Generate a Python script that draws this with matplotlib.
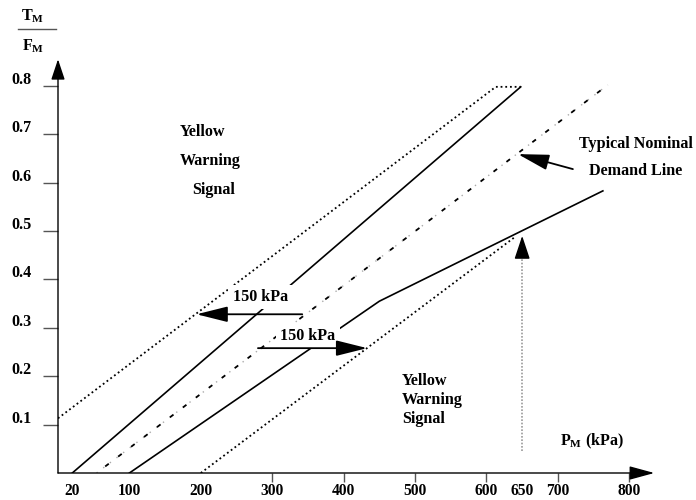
import matplotlib
matplotlib.use("Agg")
import matplotlib.pyplot as plt
from matplotlib.lines import Line2D
from matplotlib.transforms import ScaledTranslation

plt.rcParams['font.family'] = ['Liberation Serif', 'DejaVu Serif']
plt.rcParams['font.weight'] = 'bold'
plt.rcParams['mathtext.fontset'] = 'custom'
plt.rcParams['mathtext.rm'] = 'Liberation Serif:bold'
plt.rcParams['mathtext.bf'] = 'Liberation Serif:bold'
plt.rcParams['mathtext.it'] = 'Liberation Serif:bold'

# limit lines (P_M in kPa, T_M/F_M)
outer_left_x = [0, 613, 648]
outer_left_y = [0.113, 0.798, 0.798]
inner_left_x = [20, 648]
inner_left_y = [0, 0.798]
nominal_x = [54, 770]
nominal_y = [0, 0.802]
inner_right_x = [100, 450, 594, 763]
inner_right_y = [0, 0.355, 0.46, 0.583]
outer_right_x = [200, 641]
outer_right_y = [0, 0.489]

# 150 kPa shift arrows: (y, from x, to x)
shift_up = (0.328, 342, 194)
shift_down = (0.258, 280, 433)
target_p = 650
target_y = 0.49

x_ticks = [20, 100, 200, 300, 400, 500, 600, 650, 700, 800]
y_ticks = [0.1, 0.2, 0.3, 0.4, 0.5, 0.6, 0.7, 0.8]

fig = plt.figure(figsize=(6.96, 5.0), dpi=100)
ax = fig.add_axes([58 / 696, 27 / 500, 607 / 696, 421 / 500])
ax.set_xlim(0, 850)
ax.set_ylim(0, 0.87)
for s in ax.spines.values():
    s.set_visible(False)

fs = 11.6
ax_col = '#555555'

# axes with arrow heads
ax.annotate('', xy=(835, 0), xytext=(0, 0),
            arrowprops=dict(arrowstyle='-|>,head_length=1.1,head_width=0.3', color='black',
                            lw=1.0, shrinkA=0, shrinkB=0, mutation_scale=14), zorder=5)
ax.annotate('', xy=(0, 0.855), xytext=(0, 0),
            arrowprops=dict(arrowstyle='-|>,head_length=0.9,head_width=0.3', color='black',
                            lw=1.0, shrinkA=0, shrinkB=0, mutation_scale=14), zorder=5)

ax.set_xticks(x_ticks)
ax.set_xticklabels([str(v) for v in x_ticks], fontsize=11.2, fontweight='bold')
ax.set_yticks(y_ticks)
ax.set_yticklabels([f'{v:.1f}' for v in y_ticks], fontsize=fs, fontweight='bold')
ax.tick_params(axis='x', length=6.5, width=1, color=ax_col, pad=0.5)
ax.tick_params(axis='y', length=11, width=1, color=ax_col, pad=8)
for t, v in zip(ax.xaxis.get_major_ticks(), x_ticks):
    if v in (20, 100, 200, 650):
        t.tick1line.set_visible(False)
for lbl in ax.get_yticklabels():
    lbl.set_transform(lbl.get_transform() + ScaledTranslation(0, 8 / 100, fig.dpi_scale_trans))

# lines
ax.plot(outer_left_x, outer_left_y, color='black', ls=(0, (1, 1.6)), lw=1.3)
ax.plot(outer_right_x, outer_right_y, color='black', ls=(0, (1, 1.6)), lw=1.3)
ax.plot(inner_left_x, inner_left_y, color='black', lw=1.2)
ax.plot(inner_right_x, inner_right_y, color='black', lw=1.2)
ax.plot(nominal_x, nominal_y, color='#aaaaaa', ls=(0, (1, 5)), lw=1.0)
ax.plot(nominal_x, nominal_y, color='black', ls=(3, (2.5, 6.5)), lw=1.3)

# shift arrows
arrow_kw = dict(arrowstyle='-|>,head_length=1.6,head_width=0.4', color='black',
                lw=1.3, shrinkA=0, shrinkB=0, mutation_scale=12)
ax.annotate('', xy=(shift_up[2], shift_up[0]), xytext=(shift_up[1], shift_up[0]),
            arrowprops=arrow_kw, zorder=6)
ax.annotate('', xy=(shift_down[2], shift_down[0]), xytext=(shift_down[1], shift_down[0]),
            arrowprops=arrow_kw, zorder=6)

box = dict(facecolor='white', edgecolor='none', pad=3)
ax.text(283, 0.364, '150 kPa', fontsize=fs, ha='center', va='center', bbox=box, zorder=4)
ax.text(350, 0.283, '150 kPa', fontsize=fs, ha='center', va='center', bbox=box, zorder=4)

# target pressure marker
ax.plot([target_p, target_p], [0.045, target_y - 0.03], color='#999999', ls=(0, (1, 1)), lw=1.2)
ax.annotate('', xy=(target_p, target_y), xytext=(target_p, target_y - 0.035),
            arrowprops=dict(arrowstyle='-|>,head_length=1.2,head_width=0.4', color='black',
                            lw=1.0, shrinkA=0, shrinkB=0, mutation_scale=12))

# demand line label
ax.annotate('', xy=(644, 0.659), xytext=(721, 0.628),
            arrowprops=dict(arrowstyle='-|>,head_length=1.6,head_width=0.4', color='black',
                            lw=1.3, shrinkA=0, shrinkB=0, mutation_scale=12))
ax.text(809, 0.679, 'Typical Nominal', fontsize=fs, ha='center', va='center')
ax.text(809, 0.624, 'Demand Line', fontsize=fs, ha='center', va='center')

# warning zones
ax.text(171, 0.704, 'Yellow', fontsize=fs, ha='left', va='center')
ax.text(171, 0.644, 'Warning', fontsize=fs, ha='left', va='center')
ax.text(188, 0.584, 'Signal', fontsize=fs, ha='left', va='center')
ax.text(482, 0.151, 'Yellow\nWarning\nSignal', fontsize=fs, ha='left', va='center',
        linespacing=1.25)

ax.text(703, 0.066, r'$\mathbf{P_M}$ (kPa)', fontsize=fs, ha='left', va='center')

# y label as a fraction
fig.text(33 / 696, 1 - 16 / 500, r'$\mathbf{T_M}$', fontsize=fs, ha='center', va='center')
fig.text(33 / 696, 1 - 46 / 500, r'$\mathbf{F_M}$', fontsize=fs, ha='center', va='center')
fig.add_artist(Line2D([18 / 696, 56 / 696], [1 - 29 / 500, 1 - 29 / 500],
                      color='#555555', lw=1.0))

fig.savefig('out.png', dpi=100)
